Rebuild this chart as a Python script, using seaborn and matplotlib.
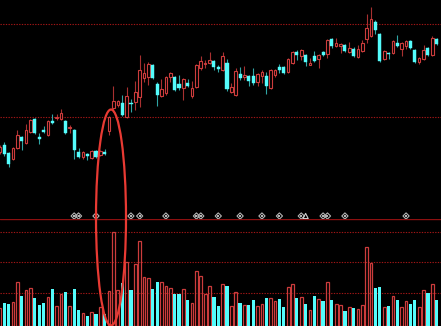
import numpy as np
import pandas as pd
import matplotlib
matplotlib.use("Agg")
import matplotlib.pyplot as plt
from matplotlib.patches import Ellipse
import seaborn as sns

# ---- data (arbitrary price units, volume units) ----
open_ = [67, 74, 66, 60, 71, 82, 76, 87, 100, 82, 89, 84, 98, 101, 100, 98, 91, 89, 67, 62,
         65, 61, 68, 64, 67, 88, 111, 114, 116, 102, 116.5, 117, 122, 141, 142, 154, 135, 123, 126, 142,
         142, 135, 131, 136, 123, 132, 151, 155, 156, 158, 152, 149, 156, 127, 124, 145, 142, 143, 143, 137,
         143, 143, 131, 144, 152, 152, 147, 156, 167, 163, 164, 154.5, 163, 160, 167, 165, 180, 173, 173, 174,
         167, 170, 162, 168, 180, 183, 197, 185, 160, 166, 166, 176, 170, 173, 178, 169, 157, 160, 171, 164,
         180]
high = [74, 77, 67, 72, 89, 83, 95, 100, 101, 86, 93, 99, 105, 105, 110, 99, 94, 90, 71, 68,
        66, 69, 69, 69, 70, 103, 133, 119, 124, 132, 120, 138, 164, 156, 157, 155, 137, 140, 143, 147,
        143, 144, 141, 140, 138, 155, 163, 159, 167, 159, 154, 167, 160, 136, 151, 152, 153, 144, 151, 146,
        149, 147, 150, 150, 155, 153, 161, 168, 169, 170, 165, 161, 168, 165, 168, 180, 181, 181, 176, 175,
        177, 172, 174, 179, 205, 212, 199, 186, 169, 167, 179, 184, 177, 179, 179, 170, 162, 174, 172, 183,
        181]
low = [65, 63, 52, 59, 70, 69, 75, 86, 85, 75, 86, 83, 95, 99, 99, 85, 86, 60, 61, 60,
       59, 60, 61, 63, 64, 84, 107, 112, 103, 101, 107, 109, 112, 137, 134, 140, 113, 122, 124, 137,
       128, 129, 119, 132, 121, 131, 149, 151, 155, 149, 147, 148, 128, 126, 123, 139, 139, 133, 134, 133,
       136, 125, 130, 142, 146, 145, 146, 155, 159, 159, 153, 154, 157, 151, 163, 161, 171, 172, 166, 167,
       166, 162, 161, 167, 176, 182, 185, 157, 159, 160, 165, 172, 163, 170, 170, 156, 155, 159, 163, 163,
       174]
close = [72, 65, 55, 71, 84, 78, 89, 99, 86, 80, 87, 98, 96, 102.5, 106, 86, 92.5, 69, 62, 67,
         63, 68, 62, 68, 65, 102, 118, 118, 104, 123, 115, 127, 149, 146, 155, 141, 124, 130, 142, 146,
         129, 131, 140, 133, 131, 154, 158, 156.5, 159, 152, 150.5, 163, 130, 132, 148, 141, 144, 138, 136, 145,
         147, 133, 149, 149, 149, 146, 160, 167, 164, 169, 157, 156, 158, 164, 164, 179, 173, 176, 175, 168,
         171, 163, 170, 176, 191, 200, 189, 158, 168, 165, 178, 173, 176, 178, 171, 157, 161, 169, 164, 181,
         175]
volume = [18, 23, 22, 24, 44, 30, 36, 38, 28, 21, 23, 29, 37, 20, 32, 34, 20, 37, 16, 13,
          10, 14, 12, 19, 12, 35, 94, 36, 43, 64, 36, 62, 85, 49, 48, 37, 44, 44, 40, 38,
          32, 32, 37, 26, 23, 55, 50, 32, 40, 29, 20, 42, 40, 20, 34, 23, 21, 21, 26, 20,
          22, 28, 28, 25, 27, 19, 39, 42, 28, 29, 22, 16, 30, 27, 25, 44, 26, 22, 21, 15,
          19, 18, 17, 21, 79, 63, 38, 39, 19, 20, 30, 26, 19, 25, 22, 26, 19, 36, 33, 42,
          26]
signal_idx = [17, 18, 22, 30, 32, 38, 45, 46, 50, 55, 60, 64, 69, 74, 75, 79, 93]
triangle_idx = [70]
price_levels = [102, 195]
volume_levels = [33, 64, 94]

UP = "#CC3C3C"
UP_WICK = "#A83030"
DOWN = "#54FCFC"
DOWN_WICK = "#2FA5A5"
GRID = "#A01616"
SEP = "#8C1010"
DASH = (0, (1.2, 1.2))

sns.set_style("dark", {"axes.facecolor": "black", "figure.facecolor": "black"})

n = len(open_)
df = pd.DataFrame({"idx": np.arange(n), "open": open_, "high": high,
                   "low": low, "close": close, "volume": volume})
df["up"] = df["close"] >= df["open"]

fig = plt.figure(figsize=(4.41, 3.26), dpi=100, facecolor="black")
axp = fig.add_axes([0, 107 / 326, 1, 219 / 326])
axv = fig.add_axes([0, 0, 1, 107 / 326])

XLIM = (0.02, 101.0)

# ---- price panel ----
for y in price_levels:
    axp.axhline(y, color=GRID, lw=0.8, ls=DASH, zorder=1)

up = df[df["up"]]
dn = df[~df["up"]]
axp.vlines(up["idx"], up["low"], up["high"], colors=UP_WICK, lw=0.8, zorder=2)
axp.vlines(dn["idx"], dn["low"], dn["high"], colors=DOWN_WICK, lw=0.8, zorder=2)

def body(sub):
    bottom = np.minimum(sub["open"], sub["close"])
    h = np.maximum(np.abs(sub["close"] - sub["open"]), 1.0)
    return bottom, h

b, h = body(up)
axp.bar(up["idx"], h, bottom=b, width=0.6, facecolor="black", edgecolor=UP, lw=0.8, zorder=3)
b, h = body(dn)
axp.bar(dn["idx"], h, bottom=b, width=0.72, facecolor=DOWN, edgecolor=DOWN, lw=0.3, zorder=3)

axp.scatter(signal_idx, [3] * len(signal_idx), marker="D", s=10, facecolors="none",
            edgecolors="#B4B4B4", lw=0.8, zorder=4)
axp.scatter(signal_idx, [3] * len(signal_idx), marker="s", s=0.6, color="#B4B4B4",
            lw=0, zorder=4)
axp.scatter(triangle_idx, [3] * len(triangle_idx), marker="^", s=14, facecolors="none",
            edgecolors="#D0D0D0", lw=0.8, zorder=4)

axp.set_xlim(*XLIM)
axp.set_ylim(0, 219)

# ---- volume panel ----
for y in volume_levels:
    axv.axhline(y, color=GRID, lw=0.8, ls=DASH, zorder=1)

sns.barplot(data=up, x="idx", y="volume", native_scale=True, fill=False, color=UP,
            width=0.62, linewidth=0.9, errorbar=None, ax=axv, zorder=3)
sns.barplot(data=dn, x="idx", y="volume", native_scale=True, color=DOWN, saturation=1,
            width=0.74, linewidth=0, errorbar=None, ax=axv, zorder=3)
axv.axhline(106.6, color=SEP, lw=1.0, zorder=4)

axv.set_xlim(*XLIM)
axv.set_ylim(0, 107)

for ax in (axp, axv):
    ax.set_facecolor("black")
    ax.set_xticks([])
    ax.set_yticks([])
    ax.set_xlabel("")
    ax.set_ylabel("")
    ax.grid(False)
    for s in ax.spines.values():
        s.set_visible(False)

# ---- annotation ellipse drawn over both panels ----
ov = fig.add_axes([0, 0, 1, 1])
ov.set_xlim(0, 441)
ov.set_ylim(326, 0)
ov.axis("off")
ov.patch.set_alpha(0)
ov.add_patch(Ellipse((111, 217.5), 30, 216, fill=False, ec="#E83A33", lw=1.6))

fig.savefig("out.png", dpi=100, facecolor="black")
